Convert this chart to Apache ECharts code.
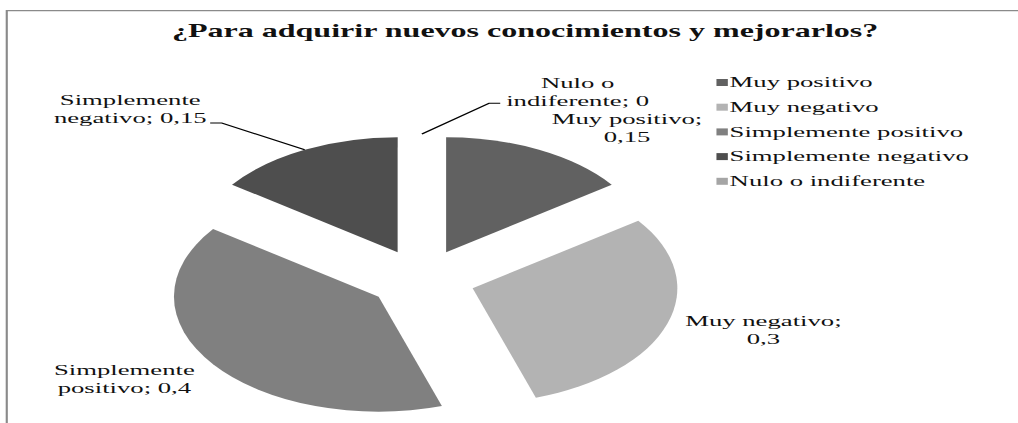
<!DOCTYPE html>
<html>
<head>
<meta charset="utf-8">
<script src="https://cdn.jsdelivr.net/npm/echarts@6/dist/echarts.min.js"></script>
<style>
  html, body { margin: 0; padding: 0; background: #fff; overflow: hidden; }
  #wrap { width: 1018px; height: 423px; overflow: hidden; position: relative; }
  /* the source picture is stretched sideways, so the whole chart is too */
  #chart { width: 572px; height: 423px; transform: scaleX(1.78); transform-origin: 0 0; }
</style>
</head>
<body>
<div id="wrap"><div id="chart"></div></div>
<script>
const chartTitle = '¿Para adquirir nuevos conocimientos y mejorarlos?'
const categories = ['Muy positivo', 'Muy negativo', 'Simplemente positivo', 'Simplemente negativo', 'Nulo o indiferente']
const values = [0.15, 0.3, 0.4, 0.15, 0]

const colors = ['#616161', '#b3b3b3', '#808080', '#4e4e4e', '#a5a5a5']
// label placement per slice: leader lengths, gap to text, extra bottom padding
const labelTweaks = [
    { len: 24.5, len2: 0, dist: -4, line: false, pad: 0 },
    { len: 20, len2: 0, dist: -9, line: false, pad: 0 },
    { len: 25, len2: 0, dist: -10, line: false, pad: 0 },
    { len: 30, len2: 39.5, dist: 2, line: true, pad: 28 },
    { len: 30.7, len2: 44, dist: 3.3, line: true, pad: 22 }
]

const font = 'Liberation Serif'

// Excel style wrap of "name; value"
function wrapLabel(name, value) {
    let words = (name + '; ' + String(value).replace('.', ',')).split(' ')
    let lines = []
    let cur = ''
    words.forEach((w) => {
        let next = cur ? cur + ' ' + w : w
        if (next.length > 14 && cur) {
            lines.push(cur)
            cur = w
        } else {
            cur = next
        }
    })
    lines.push(cur)
    return lines.map((l) => '{c|' + l + '}').join('\n')
}

let pieData = categories.map((name, i) => {
    let t = labelTweaks[i]
    return {
        name: name,
        value: values[i],
        selected: true,
        label: {
            distanceToLabelLine: t.dist,
            padding: [0, 0, t.pad, 0]
        },
        labelLine: {
            show: t.line,
            length: t.len,
            length2: t.len2
        }
    }
})

let myChart = echarts.init(document.getElementById('chart'), null, { renderer: 'svg' })
myChart.setOption({
    animation: false,
    color: colors,
    title: {
        text: chartTitle,
        left: 290,
        top: 16,
        textAlign: 'center',
        textStyle: {
            fontFamily: font,
            fontSize: 18,
            fontWeight: 'bold',
            lineHeight: 20,
            color: '#111'
        }
    },
    legend: {
        orient: 'vertical',
        left: 397.5,
        top: 68.5,
        icon: 'rect',
        itemWidth: 6.4,
        itemHeight: 7,
        itemGap: 6.7,
        selectedMode: false,
        data: categories,
        textStyle: {
            fontFamily: font,
            fontSize: 15,
            lineHeight: 18,
            color: '#111',
            padding: [0, 0, 0, -4]
        }
    },
    // chart frame: only the top and left edges are inside the picture
    graphic: [
        {
            type: 'polyline',
            shape: { points: [[3.8, 600], [3.8, 10.7], [600, 10.7]] },
            style: { fill: 'none', stroke: '#8a8a8a', lineWidth: 1.2 },
            silent: true
        }
    ],
    series: [
        {
            type: 'pie',
            center: [237, 279],
            radius: 115,
            startAngle: 89.99,
            clockwise: true,
            selectedMode: 'multiple',
            selectedOffset: 30,
            avoidLabelOverlap: false,
            select: { itemStyle: { borderWidth: 0 } },
            emphasis: { disabled: true },
            itemStyle: { borderWidth: 0 },
            label: {
                show: true,
                position: 'outside',
                formatter: (p) => wrapLabel(p.name, p.value),
                color: '#111',
                fontFamily: font,
                fontSize: 15,
                lineHeight: 18,
                rich: {
                    c: {
                        align: 'center',
                        fontFamily: font,
                        fontSize: 15,
                        lineHeight: 18,
                        color: '#111'
                    }
                }
            },
            labelLine: {
                lineStyle: { color: '#000', width: 1 }
            },
            labelLayout: (p) => {
                let pts = p.labelLinePoints
                if (!pts || pts.length < 3) return {}
                let end = pts[2]
                let stub = end[0] < pts[1][0] ? 6.5 : -6.3
                return { labelLinePoints: [pts[0], [end[0] + stub, end[1]], end] }
            },
            data: pieData
        }
    ]
})
</script>
</body>
</html>
